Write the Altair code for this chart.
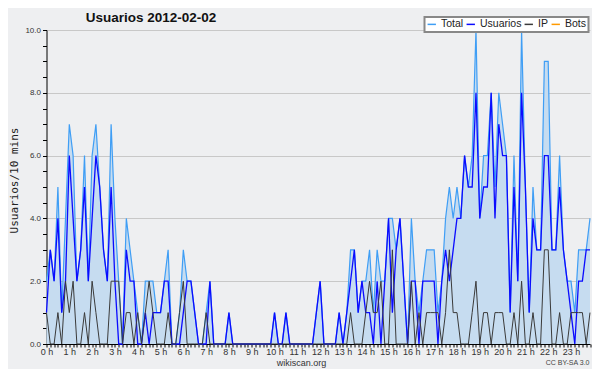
import json
import altair as alt
import pandas as pd

title_text = "Usuarios  2012-02-02"
y_title = "Usuarios/10 mins"
x_title = "wikiscan.org"
credit = "CC BY-SA 3.0"
hour_labels = [f"{h} h" for h in range(24)]
series_names = ["Total", "Usuarios", "IP", "Bots"]
series_colors = ["#3f9ef5", "#0b0bff", "#3a3a3a", "#ff9a00"]
y_ticks = [0, 0.5, 1, 1.5, 2, 2.5, 3, 3.5, 4, 4.5, 5, 5.5, 6, 6.5, 7, 7.5,
           8, 8.5, 9, 9.5, 10]

# one value per 10-minute slot (144 slots)
total = [2, 3, 2, 5, 1, 4, 7, 6, 2, 3,
         6, 2, 6, 7, 5, 3, 2, 7, 4, 2,
         0, 4, 3, 2, 1, 0, 2, 2, 2, 1,
         1, 2, 3, 0, 0, 1, 3, 2, 2, 1,
         0, 0, 1, 2, 0, 0, 0, 0, 1, 0,
         0, 0, 0, 0, 0, 0, 0, 0, 0, 0,
         1, 0, 0, 1, 0, 0, 0, 0, 0, 0,
         0, 1, 2, 0, 0, 0, 0, 1, 0, 1,
         3, 3, 1, 2, 2, 3, 1, 3, 2, 2,
         4, 4, 3, 4, 2, 0, 4, 2, 1, 2,
         3, 3, 3, 1, 2, 4, 5, 4, 5, 4,
         6, 5, 6, 10, 4, 6, 6, 8, 5, 8,
         7, 6, 1, 6, 2, 10, 5, 1, 5, 3,
         3, 9, 9, 3, 3, 6, 3, 2, 2, 1,
         3, 3, 3, 4]
usuarios = [1, 3, 2, 4, 1, 2, 6, 4, 2, 3,
            5, 2, 4, 6, 5, 3, 2, 5, 2, 0,
            0, 3, 2, 2, 0, 0, 1, 0, 1, 1,
            1, 2, 2, 0, 0, 0, 1, 2, 2, 1,
            0, 0, 0, 2, 0, 0, 0, 0, 1, 0,
            0, 0, 0, 0, 0, 0, 0, 0, 0, 0,
            1, 0, 0, 1, 0, 0, 0, 0, 0, 0,
            0, 1, 2, 0, 0, 0, 0, 1, 0, 1,
            2, 3, 1, 2, 1, 1, 0, 2, 0, 2,
            4, 1, 3, 4, 2, 0, 2, 2, 0, 2,
            2, 2, 2, 0, 2, 3, 2, 3, 4, 4,
            6, 5, 5, 8, 4, 5, 5, 8, 4, 7,
            6, 6, 1, 5, 2, 8, 5, 1, 4, 3,
            3, 6, 6, 3, 3, 5, 3, 2, 1, 0,
            2, 2, 3, 3]
ip = [1, 0, 0, 1, 0, 2, 1, 2, 0, 0,
      1, 0, 2, 1, 0, 0, 0, 2, 2, 2,
      0, 1, 1, 0, 1, 0, 1, 2, 1, 0,
      0, 0, 1, 0, 0, 1, 2, 0, 0, 0,
      0, 0, 1, 0, 0, 0, 0, 0, 0, 0,
      0, 0, 0, 0, 0, 0, 0, 0, 0, 0,
      0, 0, 0, 0, 0, 0, 0, 0, 0, 0,
      0, 0, 0, 0, 0, 0, 0, 0, 0, 0,
      1, 0, 0, 0, 1, 2, 1, 1, 2, 0,
      0, 3, 0, 0, 0, 0, 2, 0, 1, 0,
      1, 1, 1, 1, 0, 1, 3, 1, 1, 0,
      0, 0, 1, 2, 0, 1, 1, 0, 1, 1,
      1, 0, 0, 1, 0, 2, 0, 0, 1, 0,
      0, 3, 3, 0, 0, 1, 0, 0, 1, 1,
      1, 1, 0, 1]

slots = list(range(len(total)))
rows = []
for name, vals in zip(series_names[:3], [total, usuarios, ip]):
    for s, v in zip(slots, vals):
        rows.append({"slot": s, "serie": name, "value": v})
df = pd.DataFrame(rows)

label_expr_x = ("datum.value % 6 == 0 ? " + json.dumps(hour_labels)
                + "[datum.value / 6] : ''")

x_enc = alt.X(
    "slot:Q",
    scale=alt.Scale(domain=[0, len(total) - 1], nice=False, zero=False),
    axis=alt.Axis(
        values=slots, labelExpr=label_expr_x, labelOverlap=False,
        labelFlush=False, grid=False, tickSize=3, tickColor="black",
        domainColor="black", labelFont="Liberation Sans", labelFontSize=9,
        labelColor="#333333", labelPadding=0, labelAngle=0,
        title=x_title, titleFont="Liberation Sans", titleFontSize=9,
        titleFontWeight="normal", titleColor="#333333", titleX=254.5,
        titleY=21, titleAlign="center", titleBaseline="alphabetic"),
)
y_enc = alt.Y(
    "value:Q",
    scale=alt.Scale(domain=[0, 10], nice=False, zero=True),
    axis=alt.Axis(
        values=y_ticks,
        labelExpr="datum.value % 2 == 0 ? format(datum.value, '.1f') : ''",
        labelOverlap=False, grid=True, gridColor="#c8c8c8",
        gridOpacity={"condition": {"test": "datum.value % 2 === 0 && datum.value > 0",
                                   "value": 1}, "value": 0},
        tickSize=4, tickColor="black", domainColor="black",
        labelFont="Liberation Sans", labelFontSize=8, labelColor="#333333",
        labelPadding=2, title=y_title, titleFont="DejaVu Sans Mono",
        titleFontSize=11, titleFontWeight="normal", titleColor="#222222",
        titleX=-27, titleY=150, titleAlign="center", titleBaseline="bottom"),
)

color_enc = alt.Color(
    "serie:N",
    scale=alt.Scale(domain=series_names, range=series_colors),
    legend=alt.Legend(
        title=None, orient="none", legendX=378, legendY=-13,
        direction="horizontal", symbolType="stroke", symbolSize=70,
        symbolStrokeWidth=1.5, labelFont="Liberation Sans", labelFontSize=10.5,
        labelColor="#222222", fillColor="white", strokeColor="#888888",
        padding=2, columnPadding=0, labelOffset=4),
)

base = alt.Chart(df)
area = base.transform_filter("datum.serie == 'Total'").mark_area(
    color="#c6dcf0", opacity=1).encode(x=x_enc, y=y_enc)
line_total = base.transform_filter("datum.serie == 'Total'").mark_line(
    strokeWidth=1.2).encode(x=x_enc, y=y_enc, color=color_enc)
line_users = base.transform_filter("datum.serie == 'Usuarios'").mark_line(
    strokeWidth=1.3).encode(x=x_enc, y=y_enc, color=color_enc)
line_ip = base.transform_filter("datum.serie == 'IP'").mark_line(
    strokeWidth=1.0).encode(x=x_enc, y=y_enc, color=color_enc)
credit_text = alt.Chart(pd.DataFrame({"t": [credit]})).mark_text(
    align="right", baseline="alphabetic", font="Liberation Sans",
    fontSize=7, color="#444444").encode(
    x=alt.value(543), y=alt.value(335), text="t:N")
title_mark = alt.Chart(pd.DataFrame({"t": [title_text]})).mark_text(
    align="center", baseline="alphabetic", font="Liberation Sans",
    fontSize=13.5, fontWeight="bold", color="#111111").encode(
    x=alt.value(104.5), y=alt.value(-8), text="t:N")

chart = alt.layer(area, line_total, line_users, line_ip, credit_text,
                  title_mark).properties(
    width=543.5, height=314,
    padding={"left": 38.5, "top": 22, "right": 2, "bottom": 25},
    autosize=alt.AutoSizeParams(type="none"),
    background="#eeeff1",
).configure_view(stroke=None).configure_legend(strokeWidth=2)

chart.save("out.html", embed_options={"renderer": "svg", "actions": False})
